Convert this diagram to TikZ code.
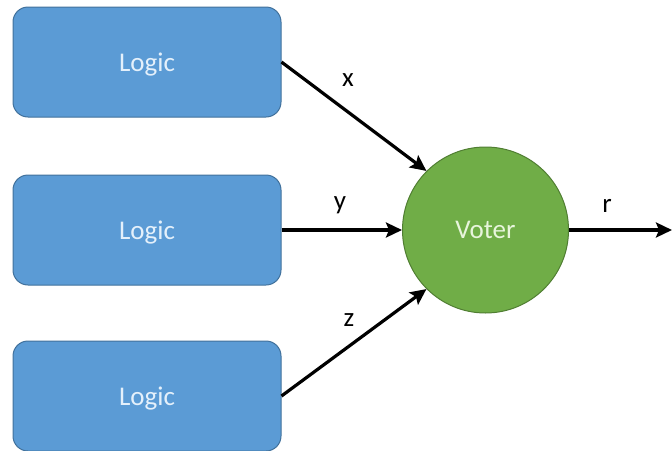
\documentclass[tikz,border=0pt]{standalone}
\usepackage{fontspec}
\setmainfont{Carlito}
\usetikzlibrary{arrows.meta}
\definecolor{boxfill}{HTML}{5B9BD5}
\definecolor{boxline}{HTML}{41719C}
\definecolor{votfill}{HTML}{70AD47}
\definecolor{votline}{HTML}{507E32}
\definecolor{boxtext}{HTML}{E4F0FB}
\definecolor{vottext}{HTML}{E8F5DC}
\begin{document}
\begin{tikzpicture}[x=1pt,y=-1pt,
  logicbox/.style={draw=boxline, line width=1pt, fill=boxfill, rounded corners=15pt,
    minimum width=268pt, minimum height=110pt, inner sep=0pt, text=boxtext, text depth=0pt,
    font=\fontsize{27}{30}\selectfont},
  voter/.style={circle, draw=votline, line width=1pt, fill=votfill, minimum size=166pt,
    inner sep=0pt, text=vottext, text depth=0pt, font=\fontsize{27}{30}\selectfont},
  conn/.style={line width=3.2pt, -{Stealth[length=16pt,width=15pt,inset=3pt]}},
  lbl/.style={font=\fontsize{27}{30}\selectfont, text=black, inner sep=0pt}]
\useasboundingbox (0,0) rectangle (672,450);
\node[logicbox] (b1) at (147,62) {Logic};
\node[logicbox] (b2) at (147,230) {Logic};
\node[logicbox] (b3) at (147,396) {Logic};
\node[voter] (v) at (485.5,230) {Voter};
\coordinate (out) at (672,230);
\draw[conn] (b1.east) -- (v.135);
\draw[conn] (b2.east) -- (v.west);
\draw[conn] (b3.east) -- (v.225);
\draw[conn] (v.east) -- (out);
\node[lbl] (lx) at (348,80) {x};
\node[lbl] (ly) at (340,205) {y};
\node[lbl] (lz) at (349,320) {z};
\node[lbl] (lr) at (607,206) {r};
\end{tikzpicture}
\end{document}
